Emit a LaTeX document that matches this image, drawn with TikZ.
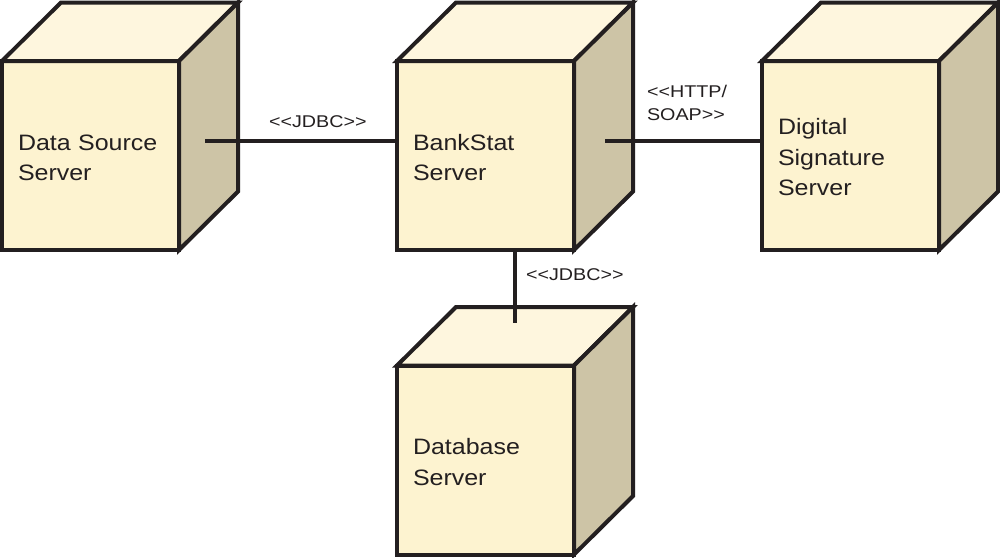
\documentclass[tikz,border=0pt]{standalone}
\usepackage{fontspec}
\newfontfamily\nodefont{Liberation Sans}[FakeStretch=1.12]
\newfontfamily\labelfont{Liberation Sans}[FakeStretch=1.16]
\newcommand\dlt{\mbox{<}\mbox{<}}
\newcommand\dgt{\mbox{>}\mbox{>}}
\definecolor{frontc}{RGB}{253,243,208}
\definecolor{topc}{RGB}{254,246,222}
\definecolor{sidec}{RGB}{205,196,166}
\definecolor{ink}{RGB}{35,31,32}
\newcommand\cubefaces[1]{%
  \filldraw[face, fill=topc] (#1.north west) -- ++(59,-58.5) -- ++(177,0) -- (#1.north east) -- cycle;
  \filldraw[face, fill=sidec] (#1.north east) -- ++(59,-58.5) -- ++(0,189) -- (#1.south east) -- cycle;
}
\begin{document}
\begin{tikzpicture}[x=1pt,y=-1pt,
  front/.style={draw=ink, fill=frontc, line width=4pt, minimum width=177pt, minimum height=189pt,
    inner sep=0pt, outer sep=0pt, align=left, text width=145pt,
    font=\nodefont\fontsize{22.3}{30.5}\selectfont, text=ink,
    execute at begin node={\rule{0pt}{20pt}}},
  face/.style={draw=ink, line width=4pt, line join=miter},
  conn/.style={draw=ink, line width=3.3pt},
  lbl/.style={inner sep=0pt, outer sep=0pt, font=\labelfont\fontsize{17}{23}\selectfont, text=ink, align=left}]

\useasboundingbox (0,0) rectangle (1000,557);

\node[front] (ds) at (90.5,155.5) {Data Source\\Server};
\cubefaces{ds}
\node[front] (bs) at (485.5,155.5) {BankStat\\Server};
\cubefaces{bs}
\node[front] (dig) at (850.5,155.5) {Digital\\Signature\\Server};
\cubefaces{dig}
\node[front] (db) at (485.5,460) {Database\\Server};
\cubefaces{db}

\coordinate (dsport) at (205,141);
\coordinate (bsport) at (605,141);
\coordinate (dbport) at (515,323);
\draw[conn] (dsport) -- (dsport -| bs.west);
\draw[conn] (bsport) -- (bsport -| dig.west);
\draw[conn] (bs.south -| dbport) -- (dbport);

\node[lbl, anchor=base west] (l1) at (269,127) {\dlt JDBC\dgt};
\node[lbl, anchor=west] (l2) at (647,103) {\dlt HTTP/\\SOAP\dgt};
\node[lbl, anchor=base west] (l3) at (526,280) {\dlt JDBC\dgt};
\end{tikzpicture}
\end{document}
